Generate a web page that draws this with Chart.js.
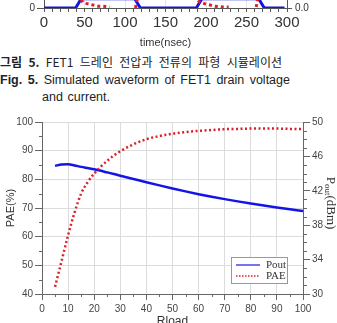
<!DOCTYPE html>
<html>
<head>
<meta charset="utf-8">
<script src="https://cdn.jsdelivr.net/npm/chart.js@4"></script>
<style>
html, body { margin: 0; padding: 0; background: #fff; overflow: hidden; width: 337px; height: 323px; position: relative; }
canvas { position: absolute; left: 0; }
#top-chart { top: -100px; }
#main-chart { top: 100px; }
.cap { position: absolute; left: 0; white-space: pre; font-family: "Liberation Sans", Arial, sans-serif; font-size: 12.5px; color: #222; line-height: 14px; }
</style>
</head>
<body>
<canvas id="top-chart" width="337" height="152"></canvas>
<div class="cap" id="cap1" style="top:55px;font-family:'Noto Sans CJK KR',sans-serif;font-size:12px"><b>그림 5.</b> FET1 드레인 전압과 전류의 파형 시뮬레이션</div>
<div class="cap" id="cap2" style="top:73px"><b>Fig. 5.</b> Simulated waveform of FET1 drain voltage</div>
<div class="cap" id="cap3" style="top:90px;left:42px">and current.</div>
<canvas id="main-chart" width="337" height="230"></canvas>
<script>
// previous figure (only its bottom strip is visible)
const vTime = [0, 39, 46, 112, 119, 188, 195, 265, 272, 297];
const vDrain = [0, 0, 10, 10, 0, 0, 10, 10, 0, 0];
const iTime = [46, 48, 52, 57, 62, 67, 72, 77, 81, 97, 113, 116, 150, 190, 193, 201, 211, 221, 228, 245, 262, 264];
const iDrain = [9, 6, 5, 4, 3, 2, 2, 1.5, 1, null, 0, 14, null, 8, 6, 4, 2, 1, 1, null, 1, 12];

// Fig. 6 data
const rload = [5, 7.5, 10, 12.5, 15, 17.5, 20, 25, 30, 35, 40, 45, 50, 55, 60, 65, 70, 75, 80, 85, 90, 95, 100];
const pout = [44.9, 45.05, 45.1, 44.95, 44.78, 44.64, 44.5, 44.14, 43.76, 43.38, 43.0, 42.63, 42.27, 41.93, 41.61, 41.31, 41.03, 40.77, 40.52, 40.28, 40.06, 39.85, 39.65];
const pae = [42.5, 51.5, 60.5, 68.5, 75, 79, 82, 86.5, 89.8, 92.2, 94, 95.1, 95.9, 96.5, 96.9, 97.2, 97.5, 97.6, 97.7, 97.7, 97.7, 97.6, 97.5];
const seriesNames = ["Pout", "PAE"];

Chart.defaults.font.family = '"Liberation Sans", Arial, sans-serif';
Chart.defaults.animation = false;

const blue = "rgb(20,20,230)";
const red = "rgb(222,30,40)";
const axisColor = "#666";
const gridColor = "#dcdcdc";

// stretch caption lines like the justified text
function fitLine(id, right) {
  const el = document.getElementById(id);
  const r = el.getBoundingClientRect();
  const n = (el.textContent.match(/ /g) || []).length;
  if (n) el.style.wordSpacing = ((right - r.right) / n) + "px";
}
fitLine("cap1", 282);
fitLine("cap2", 290);
fitLine("cap3", 110);

// ---- top strip ----
const pts = (xs, ys) => xs.map((x, i) => ({ x: x, y: ys[i] }));

new Chart(document.getElementById("top-chart"), {
  type: "line",
  data: {
    datasets: [
      { data: pts(vTime, vDrain), borderColor: blue, borderWidth: 3, pointRadius: 0, order: 1 },
      { data: pts(iTime, iDrain), borderColor: red, borderWidth: 3, borderDash: [3, 3], pointRadius: 0, spanGaps: false, order: 0 }
    ]
  },
  options: {
    responsive: false,
    plugins: { legend: { display: false }, tooltip: { enabled: false } },
    layout: { padding: 0 },
    scales: {
      x: {
        type: "linear", min: 0, max: 300,
        ticks: { stepSize: 10, autoSkip: false, maxRotation: 0, padding: 2, color: "#333", font: { size: 15 },
          callback: v => (v % 50 === 0 ? v : "") },
        grid: { color: c => (c.tick && c.tick.value % 50 === 0 ? "#e4e4e4" : "transparent"), tickColor: "#555", tickLength: 4 },
        border: { color: "#555" },
        title: { display: true, text: "time(nsec)", color: "#333", font: { size: 11 }, padding: { top: 0, bottom: 2 } },
        afterFit: s => { s.height = 44; }
      },
      y: {
        position: "left", min: 0, max: 108,
        afterBuildTicks: s => { s.ticks = [{ value: 0 }]; },
        ticks: { color: "#333", font: { size: 10 }, padding: 2 },
        grid: { drawOnChartArea: false, tickColor: "#555", tickLength: 7 },
        border: { color: "#555" },
        afterFit: s => { s.width = 44; }
      },
      y2: {
        position: "right", min: 0, max: 108,
        afterBuildTicks: s => { s.ticks = [{ value: 0 }]; },
        ticks: { color: "#333", font: { size: 10 }, padding: 3, callback: () => "0.0" },
        grid: { drawOnChartArea: false, tickColor: "#555", tickLength: 5 },
        border: { color: "#555" },
        afterFit: s => { s.width = 50; }
      }
    }
  }
});

// ---- main chart ----
const minorTicks = {
  id: "minorTicks",
  afterDraw(chart) {
    const { ctx, chartArea: a, scales } = chart;
    ctx.save();
    ctx.strokeStyle = axisColor;
    ctx.lineWidth = 1;
    ctx.beginPath();
    for (let v = 5; v < 100; v += 10) {
      const x = Math.round(scales.x.getPixelForValue(v)) + 0.5;
      ctx.moveTo(x, a.bottom); ctx.lineTo(x, a.bottom + 3);
    }
    for (let v = 45; v < 100; v += 10) {
      const y = Math.round(scales.y.getPixelForValue(v)) + 0.5;
      ctx.moveTo(a.left - 3, y); ctx.lineTo(a.left, y);
    }
    for (let v = 31; v < 50; v++) {
      if ((v - 30) % 4 === 0) continue;
      const y = Math.round(scales.y2.getPixelForValue(v)) + 0.5;
      ctx.moveTo(a.right, y); ctx.lineTo(a.right + 4, y);
    }
    ctx.stroke();
    ctx.restore();
  }
};

const rightTitle = {
  id: "rightTitle",
  afterDraw(chart) {
    const { ctx, chartArea: a } = chart;
    ctx.save();
    ctx.translate(a.right + 27, (a.top + a.bottom) / 2 - 5);
    ctx.rotate(Math.PI / 2);
    ctx.fillStyle = "#333";
    ctx.textBaseline = "middle";
    const big = '13px "Liberation Serif", serif';
    const small = '9px "Liberation Serif", serif';
    ctx.font = big; const w1 = ctx.measureText("P").width; const w3 = ctx.measureText("(dBm)").width;
    ctx.font = small; const w2 = ctx.measureText("out").width;
    let x = -(w1 + w2 + w3) / 2;
    ctx.font = big; ctx.fillText("P", x, 0); x += w1;
    ctx.font = small; ctx.fillText("out", x, 3); x += w2;
    ctx.font = big; ctx.fillText("(dBm)", x, 0);
    ctx.restore();
  }
};

const boxLegend = {
  id: "boxLegend",
  afterDraw(chart) {
    const { ctx, chartArea: a } = chart;
    const right = a.right - 16, bottom = a.bottom - 11;
    const w = 56, h = 26;
    const left = right - w, top = bottom - h;
    ctx.save();
    ctx.fillStyle = "#fff";
    ctx.fillRect(left, top, w, h);
    ctx.strokeStyle = "#999";
    ctx.lineWidth = 1;
    ctx.strokeRect(left + 0.5, top + 0.5, w, h);
    const entries = [
      { name: seriesNames[0], color: "rgb(70,70,230)", dash: [] },
      { name: seriesNames[1], color: red, dash: [1.5, 1.5] }
    ];
    ctx.font = '11px "Liberation Serif", serif';
    ctx.textBaseline = "middle";
    entries.forEach((e, i) => {
      const y = top + 8 + i * 11;
      ctx.strokeStyle = e.color;
      ctx.lineWidth = 1.5;
      ctx.setLineDash(e.dash);
      ctx.beginPath(); ctx.moveTo(left + 5, y); ctx.lineTo(left + 29, y); ctx.stroke();
      ctx.setLineDash([]);
      ctx.fillStyle = "#333";
      ctx.fillText(e.name, left + 35, y);
    });
    ctx.restore();
  }
};

new Chart(document.getElementById("main-chart"), {
  type: "line",
  data: {
    datasets: [
      { label: seriesNames[0], data: pts(rload, pout), yAxisID: "y2", borderColor: blue, borderWidth: 2.5,
        pointRadius: 0, cubicInterpolationMode: "monotone", order: 1 },
      { label: seriesNames[1], data: pts(rload, pae), yAxisID: "y", borderColor: red, borderWidth: 2.5,
        borderDash: [2, 2.5], pointRadius: 0, cubicInterpolationMode: "monotone", order: 0 }
    ]
  },
  options: {
    responsive: false,
    plugins: { legend: { display: false }, tooltip: { enabled: false } },
    layout: { padding: { top: 22, left: 0, right: 0, bottom: 0 } },
    scales: {
      x: {
        type: "linear", min: 0, max: 100,
        ticks: { stepSize: 10, maxRotation: 0, padding: 3, color: "#444", font: { size: 10 } },
        grid: { color: gridColor, tickColor: axisColor, tickLength: 6 },
        border: { color: axisColor },
        title: { display: true, text: "Rload", color: "#333", font: { size: 12 }, padding: { top: 0, bottom: 1 } },
        afterFit: s => { s.height = 36; }
      },
      y: {
        position: "left", min: 40, max: 100,
        ticks: { stepSize: 10, padding: 2, color: "#444", font: { size: 10 } },
        grid: { color: gridColor, tickColor: axisColor, tickLength: 7 },
        border: { color: axisColor },
        title: { display: true, text: "PAE(%)", color: "#333", font: { size: 11 }, padding: { top: 4, bottom: 0 } },
        afterFit: s => { s.width = 42; }
      },
      y2: {
        position: "right", min: 30, max: 50,
        ticks: { stepSize: 4, padding: 2, color: "#444", font: { size: 10 } },
        grid: { drawOnChartArea: false, tickColor: axisColor, tickLength: 7 },
        border: { color: axisColor },
        afterFit: s => { s.width = 34; }
      }
    }
  },
  plugins: [minorTicks, rightTitle, boxLegend]
});
</script>
</body>
</html>
